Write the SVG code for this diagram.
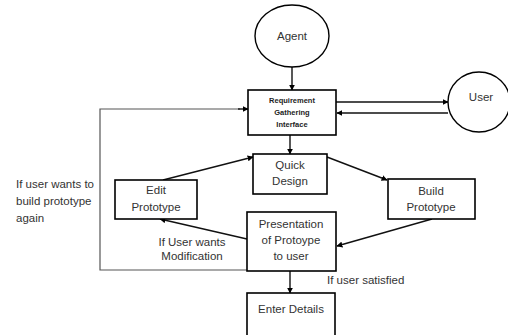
<svg xmlns="http://www.w3.org/2000/svg" width="508" height="335" viewBox="0 0 508 335">
<style>
.box{fill:#fff;stroke:#000;stroke-width:1.6}
.ell{fill:#fff;stroke:#000;stroke-width:1.4}
.t{font-family:"Liberation Sans",Arial,sans-serif;font-size:11.5px;fill:#333;text-anchor:middle}
.tl{font-family:"Liberation Sans",Arial,sans-serif;font-size:11.5px;fill:#333}
.tb{font-family:"Liberation Sans",Arial,sans-serif;font-size:7.5px;font-weight:bold;fill:#222;text-anchor:middle}
.c{fill:none;stroke:#111;stroke-width:1.4;marker-end:url(#ah)}
.cn{fill:none;stroke:#555;stroke-width:1.2}
</style>
<defs>
<marker id="ah" viewBox="0 0 10 10" refX="9" refY="5" markerWidth="6" markerHeight="6" markerUnits="userSpaceOnUse" orient="auto">
<path d="M0,0 L10,5 L0,10 z" fill="#000"/>
</marker>
</defs>
<rect width="508" height="335" fill="#fff"/>
<g id="connectors">
<line class="c" x1="292" y1="67" x2="292" y2="90"/>
<line class="c" x1="336" y1="102" x2="448" y2="102"/>
<line class="c" x1="448" y1="113" x2="337" y2="113"/>
<line class="c" x1="290" y1="135" x2="290" y2="154"/>
<line class="c" x1="163" y1="180" x2="253" y2="157"/>
<line class="c" x1="327" y1="157" x2="387" y2="180"/>
<line class="c" x1="432" y1="219" x2="337" y2="246"/>
<line class="c" x1="247" y1="239" x2="160" y2="219"/>
<line class="c" x1="290" y1="271" x2="290" y2="293"/>
<polyline class="cn" points="247,270 100,270 100,109 240,109"/>
<line class="c" x1="238" y1="109" x2="248" y2="109"/>
</g>
<g id="agent">
<ellipse class="ell" cx="292" cy="36" rx="37" ry="31"/>
<text class="t" x="292" y="40" font-size="12.5">Agent</text>
</g>
<g id="user">
<ellipse class="ell" cx="479" cy="102" rx="31" ry="30"/>
<text class="t" x="481" y="101">User</text>
</g>
<g id="rgi">
<rect class="box" x="248" y="90" width="88" height="45"/>
<text class="tb" x="292" y="103">Requirement</text>
<text class="tb" x="292" y="115">Gathering</text>
<text class="tb" x="292" y="127">Interface</text>
</g>
<g id="quick-design">
<rect class="box" x="253" y="154" width="74" height="40"/>
<text class="t" x="290" y="169">Quick</text>
<text class="t" x="290" y="185">Design</text>
</g>
<g id="build-prototype">
<rect class="box" x="388" y="179" width="87" height="40"/>
<text class="t" x="431" y="195">Build</text>
<text class="t" x="431" y="211">Prototype</text>
</g>
<g id="edit-prototype">
<rect class="box" x="115" y="180" width="82" height="39"/>
<text class="t" x="156" y="194">Edit</text>
<text class="t" x="156" y="211">Prototype</text>
</g>
<g id="presentation">
<rect class="box" x="247" y="212" width="89" height="59"/>
<text class="t" x="291" y="228">Presentation</text>
<text class="t" x="291" y="244">of Protoype</text>
<text class="t" x="291" y="260">to user</text>
</g>
<g id="enter-details">
<rect class="box" x="247" y="293" width="88" height="50"/>
<text class="t" x="291" y="313">Enter Details</text>
</g>
<g id="labels">
<text class="tl" x="327" y="284">If user satisfied</text>
<text class="t" x="192" y="246">If User  wants</text>
<text class="t" x="192" y="260">Modification</text>
<text class="tl" x="16" y="188">If user wants to</text>
<text class="tl" x="16" y="205">build prototype</text>
<text class="tl" x="16" y="222">again</text>
</g>
</svg>
